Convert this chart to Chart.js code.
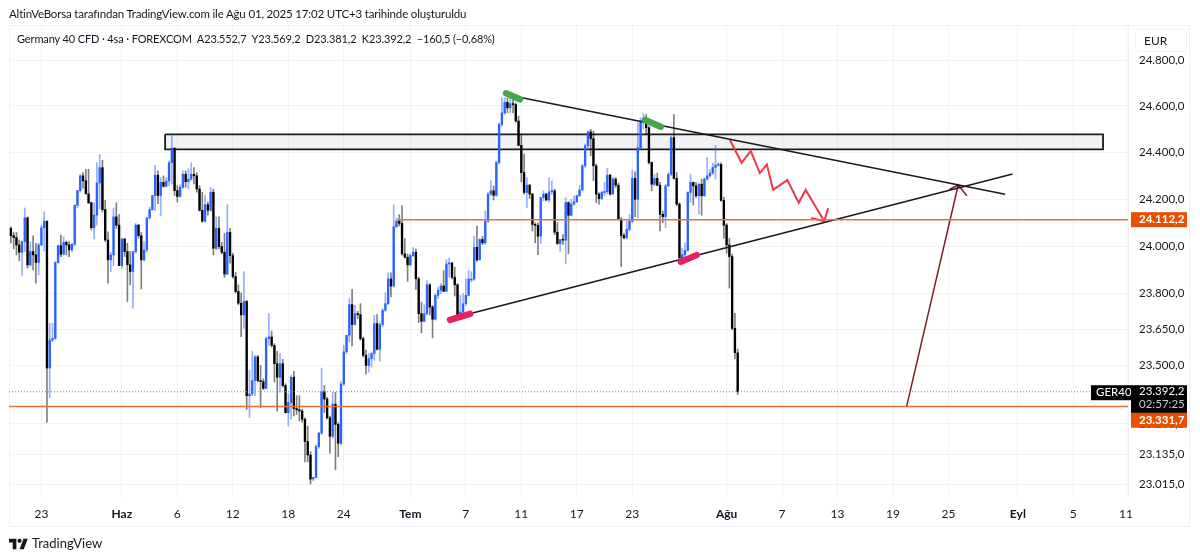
<!DOCTYPE html>
<html lang="tr">
<head>
    <meta charset="UTF-8">
    <title>Germany 40 CFD</title>
    <style>
        html, body { margin: 0; padding: 0; background: #fff; }
        body { width: 1200px; height: 559px; overflow: hidden; position: relative; font-family: Lato, sans-serif; color: #131722; }
        canvas { position: absolute; left: 0; top: 0; }
        .frame { position: absolute; left: 9px; top: 25px; width: 1181px; height: 502px; border: 1px solid #eef0f3; box-sizing: border-box; }
        .caption { position: absolute; left: 9px; top: 6px; font-size: 11.5px; letter-spacing: -0.17px; line-height: 16px; white-space: nowrap; }
        .legend { position: absolute; left: 17px; top: 31px; font-size: 11px; letter-spacing: -0.13px; line-height: 16px; white-space: pre; }
        .unit { position: absolute; left: 1135px; top: 29px; width: 52px; height: 23px; border: 1px solid #f0f1f3; border-radius: 5px; box-sizing: border-box; font-size: 12px; line-height: 22px; padding-left: 8px; }
        .brand { position: absolute; left: 9px; top: 535px; height: 16px; display: flex; align-items: center; font-size: 13px; }
        .brand svg { width: 19px; height: 15px; margin-right: 4px; }
    </style>
</head>
<body>
    <div class="frame"></div>
    <canvas id="chart" width="1200" height="559"></canvas>
    <div class="caption">AltinVeBorsa tarafından TradingView.com ile Ağu 01, 2025 17:02 UTC+3 tarihinde oluşturuldu</div>
    <div class="legend">Germany 40 CFD · 4sa · FOREXCOM  A23.552,7  Y23.569,2  D23.381,2  K23.392,2  −160,5 (−0,68%)</div>
    <div class="unit">EUR</div>
    <div class="brand"><svg viewBox="0 0 36 28"><path d="M14 25H7V12H0V5h14v20zM28 25h-8l7.5-20h8L28 25z" fill="#131722"/><circle cx="20" cy="9" r="4" fill="#131722"/></svg>TradingView</div>

    <script src="https://cdn.jsdelivr.net/npm/chart.js@4"></script>
    <script>
        // 4h candles, one entry per bar
        const opens = [
            24075,24044,24036,24005,23974,24019,24120,23921,23977,23963,
            23931,24005,24078,24106,23490,23606,23613,23931,24002,23966,
            24016,24005,23984,24008,24173,24236,24299,24278,24222,24184,
            24078,24131,24268,24334,24155,24026,23942,23963,24124,
            24089,23918,24030,23977,23921,23893,23977,24089,24044,23942,
            23984,24120,24155,24215,24302,24215,24271,24254,24277,
            24355,24418,24236,24211,24250,24306,24274,24285,24306,24299,24243,24152,
            24106,24176,24152,24229,23991,24075,23998,23974,23882,24058,
            23960,23872,23809,23760,23711,23767,23376,23383,23438,23536,
            23438,23434,23406,23612,23619,23584,23508,23452,23508,23418,
            23306,23348,23452,23323,23318,23313,23279,23188,23133,23035,
            23042,23167,23223,23393,23362,23285,23209,23341,23258,23181,
            23424,23557,23626,23754,23671,23716,23712,23612,23543,23501,
            23529,23550,23675,23568,23671,23730,23758,23862,23832,24082,
            24106,24096,23967,23953,23921,23960,23974,23862,23716,23684,
            23716,23837,23744,23693,23793,23814,23832,23810,23925,23929,
            23869,23837,23710,23723,23758,23793,23857,23861,23995,23942,
            24028,24014,24106,24221,24235,24216,24356,24520,24570,24616,
            24592,24610,24606,24535,24430,24313,24228,24259,24221,24092,
            24088,24042,24206,24221,24196,24231,24235,24059,24011,24028,
            24025,24185,24131,24178,24188,24214,24239,24342,24428,24488,
            24459,24342,24221,24202,24228,24231,24302,24221,24285,24259,
            24114,24045,24035,24071,24106,24288,24199,24420,24535,24542,
            24506,24356,24263,24288,24259,24135,24125,24256,24306,24463,
            24288,24178,23950,23964,23982,24228,24271,24256,24214,24263,
            24214,24285,24299,24311,24335,24345,24348,24194,24089,24005,
            23956,23655,23552.7
        ];
        const highs = [
            24082,24058,24058,24026,24022,24162,24124,24019,24044,24012,
            24012,24089,24145,24106,23676,23676,23935,24005,24047,24040,
            24022,24019,24012,24176,24236,24306,24313,24327,24327,24187,
            24184,24355,24390,24366,24194,24061,23974,24162,24184,
            24134,24033,24033,24012,23977,23977,24096,24092,24058,24019,
            24120,24166,24215,24344,24320,24292,24299,24292,24362,
            24481,24418,24257,24262,24320,24320,24330,24355,24334,24313,24257,24229,
            24215,24187,24250,24243,24124,24124,24016,24054,24176,24075,
            23970,23890,23837,23802,23893,23772,23480,23559,23543,23543,
            23501,23445,23619,23716,23643,23591,23559,23550,23526,23425,
            23383,23459,23476,23376,23376,23320,23285,23251,23147,23042,
            23174,23223,23490,23418,23369,23292,23390,23390,23265,23434,
            23584,23626,23779,23818,23751,23726,23758,23619,23564,23550,
            23557,23710,23712,23679,23737,23804,23887,23887,24175,24120,
            24133,24171,24032,23967,23967,23994,23988,23869,23765,23754,
            23855,23842,23751,23800,23828,23842,23897,23943,23949,23932,
            23911,23842,23793,23800,23862,23897,23892,24042,24085,24031,
            24042,24149,24228,24278,24256,24363,24527,24635,24635,24635,
            24642,24635,24613,24556,24478,24392,24292,24263,24225,24099,
            24099,24206,24235,24225,24292,24278,24242,24099,24028,24049,
            24206,24188,24199,24214,24216,24259,24349,24435,24492,24499,
            24492,24349,24228,24235,24271,24331,24306,24292,24292,24268,
            24121,24054,24106,24135,24325,24316,24527,24549,24567,24563,
            24513,24359,24306,24311,24271,24149,24263,24313,24470,24563,
            24313,24185,23992,24014,24231,24306,24273,24271,24268,24285,
            24292,24378,24328,24353,24430,24356,24355,24208,24096,24033,
            23966,23718,23569.2
        ];
        const lows = [
            24012,23988,23963,23938,23876,23977,23907,23914,23900,23844,
            23879,24002,23980,23266,23368,23599,23610,23928,23956,23963,
            23963,23956,23974,24002,24162,24229,24246,24222,24180,24068,
            24030,24089,24159,24145,24019,23844,23893,23918,24075,
            23918,23907,23956,23767,23837,23739,23970,24033,23820,23938,
            23974,24114,24152,24152,24180,24128,24250,24254,24257,
            24264,24215,24187,24208,24245,24250,24243,24280,24264,24229,24148,24100,
            24103,24131,24148,23963,23984,23988,23966,23868,23879,23928,
            23865,23802,23753,23620,23655,23319,23286,23376,23376,23432,
            23327,23401,23404,23584,23577,23432,23313,23390,23411,23304,
            23251,23279,23293,23299,23272,23267,23105,23105,23015,23028,
            23040,23160,23216,23306,23279,23140,23202,23073,23126,23174,
            23418,23550,23598,23582,23668,23696,23605,23536,23466,23473,
            23494,23522,23564,23518,23661,23726,23754,23786,23828,24078,
            24085,23962,23949,23851,23915,23957,23818,23679,23636,23682,
            23710,23710,23615,23689,23779,23800,23807,23807,23869,23862,
            23790,23703,23707,23716,23751,23790,23850,23857,23935,23942,
            24007,24007,24099,24214,24196,24211,24349,24513,24563,24570,
            24570,24570,24530,24428,24273,24221,24164,24202,24064,24014,
            23964,24011,24192,24192,24188,24221,24049,24007,23978,24007,
            23925,23968,24128,24174,24185,24211,24235,24335,24420,24385,
            24278,24185,24178,24196,24214,24221,24216,24221,24249,24111,
            23914,24031,24031,24064,24099,24125,24121,24413,24502,24478,
            24349,24235,24256,24256,24064,24099,24078,24253,24299,24285,
            24171,23935,23942,23957,23978,24185,24174,24206,24135,24131,
            24211,24282,24292,24306,24285,24339,24190,24033,23970,23823,
            23648,23529,23381.2
        ];
        const closes = [
            24044,24036,24005,23974,24019,24120,23921,23977,23963,23931,
            24005,24078,24106,23490,23606,23613,23931,24002,23966,24016,
            24005,23984,24008,24173,24236,24299,24278,24222,24184,24078,
            24131,24268,24334,24155,24026,23942,23963,24124,24089,
            23918,24030,23977,23921,23893,23977,24089,24044,23942,23984,
            24120,24155,24215,24302,24215,24271,24254,24277,24355,
            24418,24236,24211,24250,24306,24274,24285,24306,24299,24243,24152,24106,
            24176,24152,24229,23991,24075,23998,23974,23882,24058,23960,
            23872,23809,23760,23711,23767,23376,23383,23438,23536,23438,
            23434,23406,23612,23619,23584,23508,23452,23508,23418,23306,
            23348,23452,23323,23318,23313,23279,23188,23133,23035,23042,
            23167,23223,23393,23362,23285,23209,23341,23258,23181,23424,
            23557,23626,23754,23671,23716,23712,23612,23543,23501,23529,
            23550,23675,23568,23671,23730,23758,23862,23832,24082,24106,
            24096,23967,23953,23921,23960,23974,23862,23716,23684,23716,
            23837,23744,23693,23793,23814,23832,23810,23925,23929,23869,
            23837,23710,23723,23758,23793,23862,23861,23995,23942,24028,
            24014,24106,24221,24235,24216,24356,24520,24570,24616,24592,
            24610,24606,24535,24430,24313,24228,24259,24221,24092,24088,
            24042,24206,24221,24196,24231,24235,24059,24011,24028,24025,
            24185,24131,24178,24188,24214,24239,24342,24428,24488,24459,
            24342,24221,24202,24228,24231,24302,24221,24285,24259,24114,
            24045,24035,24071,24106,24288,24199,24420,24535,24542,24506,
            24356,24263,24288,24259,24135,24125,24256,24306,24463,24288,
            24178,23950,23964,23982,24228,24271,24256,24214,24263,24214,
            24285,24299,24311,24335,24345,24345,24194,24089,24005,23956,
            23655,23554,23392.2
        ];

        // axis labels, the x ticks are bar numbers
        const xTickBars = [11, 40, 60, 80, 100, 120, 144, 164, 184, 204, 224, 258, 278, 298, 318, 338, 363, 383, 402];
        const xTickLabels = ['23', 'Haz', '6', '12', '18', '24', 'Tem', '7', '11', '17', '23', 'Ağu', '7', '13', '19', '25', 'Eyl', '5', '11'];
        const monthLabels = ['Haz', 'Tem', 'Ağu', 'Eyl'];
        const yTicks = [24800, 24600, 24400, 24200, 24000, 23800, 23650, 23500, 23260, 23135, 23015];

        // drawings on the chart, in bar number and price
        const lastPrice = 23392.2;
        const upperLevel = 24112.2;
        const lowerLevel = 23331.7;
        const zoneBox = [{x: 55.6, y: 24477}, {x: 393.7, y: 24477}, {x: 393.7, y: 24413}, {x: 55.6, y: 24413}, {x: 55.6, y: 24477}];
        const topTrend = [{x: 177.5, y: 24652}, {x: 358.4, y: 24220}];
        const bottomTrend = [{x: 157.7, y: 23693}, {x: 361.1, y: 24307}];
        const greenMarks = [
            [{x: 178.5, y: 24655}, {x: 183.5, y: 24629}],
            [{x: 228.6, y: 24539}, {x: 234.3, y: 24510}]
        ];
        const pinkMarks = [
            [{x: 158.3, y: 23690}, {x: 165.5, y: 23715}],
            [{x: 241.5, y: 23934}, {x: 247.2, y: 23962}]
        ];
        const redPath = [
            {x: 259.2, y: 24453}, {x: 263.4, y: 24355}, {x: 266.7, y: 24406}, {x: 270, y: 24311},
            {x: 272.5, y: 24348}, {x: 274.8, y: 24239}, {x: 279.9, y: 24281}, {x: 284, y: 24184},
            {x: 286.5, y: 24239}, {x: 293.2, y: 24106}, {x: 288.5, y: 24119}, {x: 293.2, y: 24106}, {x: 294.6, y: 24160}
        ];
        const maroonArrow = [
            {x: 322.9, y: 23331.7}, {x: 341.5, y: 24260}, {x: 338.3, y: 24241}, {x: 341.5, y: 24260}, {x: 344.6, y: 24214}
        ];

        const BLUE = '#2962ff';
        const BLACK = '#000000';
        const ORANGE_LINE = '#e8703a';
        const ORANGE_TAG = '#e65100';
        const FONT = 'Lato, sans-serif';

        const xMin = -0.685, xMax = 402.7;

        function priceText(v) {
            const parts = v.toFixed(1).split('.');
            return parts[0].replace(/\B(?=(\d{3})+$)/g, '.') + ',' + parts[1];
        }

        function drawing(data, color, width, extra) {
            return Object.assign({
                type: 'line', data: data, borderColor: color, borderWidth: width,
                pointRadius: 0, tension: 0, order: 1
            }, extra);
        }

        const bars = opens.map((o, i) => i);

        const datasets = [
            {
                type: 'bar',
                data: bars.map(i => ({x: i, y: [opens[i], closes[i]]})),
                backgroundColor: bars.map(i => closes[i] >= opens[i] ? BLUE : BLACK),
                barThickness: 1.7, grouped: false, minBarLength: 1, borderWidth: 0, order: 3
            },
            {
                type: 'bar',
                data: bars.map(i => ({x: i, y: [lows[i], highs[i]]})),
                backgroundColor: bars.map(i => closes[i] >= opens[i] ? 'rgba(41,98,255,0.5)' : 'rgba(0,0,0,0.5)'),
                barThickness: 1, grouped: false, borderWidth: 0, order: 4
            },
            drawing(zoneBox, '#1c1c1c', 1.8, {backgroundColor: 'rgba(120,123,134,0.1)', fill: 'shape', order: 5}),
            drawing([{x: 139.2, y: upperLevel}, {x: xMax, y: upperLevel}], ORANGE_LINE, 1.5),
            drawing([{x: xMin, y: lowerLevel}, {x: xMax, y: lowerLevel}], ORANGE_LINE, 1.5),
            drawing([{x: xMin, y: lastPrice}, {x: xMax, y: lastPrice}], '#8a8a8a', 1, {borderDash: [1, 2]}),
            drawing(topTrend, '#1a1a1a', 1.6),
            drawing(bottomTrend, '#1a1a1a', 1.6),
            drawing(redPath, '#ee3a45', 2),
            drawing(maroonArrow, '#801922', 1.5)
        ];
        greenMarks.forEach(m => datasets.push(drawing(m, '#43a84a', 6.5, {borderCapStyle: 'round', order: 0})));
        pinkMarks.forEach(m => datasets.push(drawing(m, '#e91e63', 6.5, {borderCapStyle: 'round', order: 0})));

        // price tags over the right axis
        const priceTags = {
            id: 'priceTags',
            afterDraw(chart) {
                const ctx = chart.ctx;
                const y = chart.scales.y;
                const tag = (left, top, w, h, fill) => {
                    ctx.fillStyle = fill;
                    ctx.fillRect(left, top, w, h);
                };
                const label = (text, x, cy, color, weight) => {
                    ctx.fillStyle = color;
                    ctx.font = weight + ' 11.5px ' + FONT;
                    ctx.textAlign = 'left';
                    ctx.textBaseline = 'middle';
                    ctx.fillText(text, x, cy);
                };
                ctx.save();
                const upper = y.getPixelForValue(upperLevel);
                tag(1131, upper - 7.5, 56, 15, ORANGE_TAG);
                label(priceText(upperLevel), 1139, upper, '#fff', '700');

                const last = y.getPixelForValue(lastPrice);
                tag(1091, last - 6.5, 40, 15, '#000');
                label('GER40', 1096, last + 1, '#fff', '400');
                tag(1131, last - 6.5, 56, 28, '#000');
                label(priceText(lastPrice), 1139, last, '#fff', '400');
                label('02:57:25', 1139, last + 13, '#c8c8c8', '400');

                tag(1131, last + 21, 56, 15, ORANGE_TAG);
                label(priceText(lowerLevel), 1139, last + 28.5, '#fff', '700');
                ctx.restore();
            }
        };

        new Chart(document.getElementById('chart'), {
            type: 'bar',
            data: {datasets: datasets},
            plugins: [priceTags],
            options: {
                responsive: false,
                animation: false,
                events: [],
                layout: {padding: {left: 9, top: 25, right: 10, bottom: 32}},
                plugins: {legend: {display: false}, tooltip: {enabled: false}, title: {display: false}},
                scales: {
                    x: {
                        type: 'linear',
                        min: xMin,
                        max: xMax,
                        offset: false,
                        afterBuildTicks: axis => { axis.ticks = xTickBars.map(v => ({value: v})); },
                        afterFit: axis => { axis.height = 30; },
                        grid: {color: '#f2f3f5', offset: false, drawTicks: false},
                        border: {display: false},
                        ticks: {
                            autoSkip: false,
                            maxRotation: 0,
                            padding: 10,
                            color: '#131722',
                            font: ctx => {
                                const isMonth = ctx.tick && monthLabels.includes(xTickLabels[xTickBars.indexOf(ctx.tick.value)]);
                                return {family: FONT, size: 12, weight: isMonth ? '700' : '400'};
                            },
                            callback: v => xTickLabels[xTickBars.indexOf(v)]
                        }
                    },
                    y: {
                        type: 'logarithmic',
                        position: 'right',
                        min: 22962.4,
                        max: 24953.4,
                        bounds: 'data',
                        afterBuildTicks: axis => { axis.ticks = yTicks.map(v => ({value: v})); },
                        afterFit: axis => { axis.width = 62; },
                        grid: {color: '#f2f3f5', drawTicks: false},
                        border: {display: true, color: '#eef0f3'},
                        ticks: {
                            autoSkip: false,
                            padding: 11,
                            color: '#131722',
                            font: {family: FONT, size: 11.5},
                            callback: v => priceText(v)
                        }
                    }
                }
            }
        });
    </script>
</body>
</html>
